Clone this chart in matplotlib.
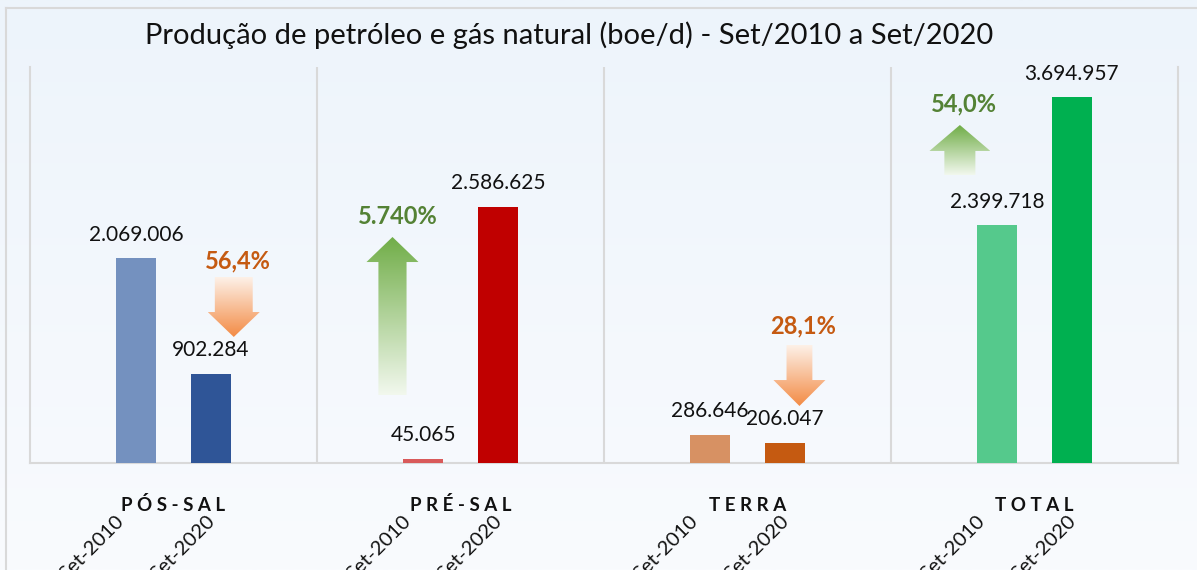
import numpy as np
import matplotlib
matplotlib.use("Agg")
import matplotlib.pyplot as plt
from matplotlib.patches import Polygon
from matplotlib.colors import LinearSegmentedColormap
from matplotlib.lines import Line2D
import matplotlib.transforms as mtransforms

plt.rcParams['font.family'] = ['Lato', 'DejaVu Sans']

# data
groups = ['P Ó S - S A L', 'P R É - S A L', 'T E R R A', 'T O T A L']
periods = ['Set-2010', 'Set-2020']
val_2010 = [2069006, 45065, 286646, 2399718]
val_2020 = [902284, 2586625, 206047, 3694957]
pct_labels = ['56,4%', '5.740%', '28,1%', '54,0%']
pct_up = [False, True, False, True]

colors_2010 = ['#7491bf', '#d95a5a', '#d79163', '#55c98c']
colors_2020 = ['#2f5597', '#c00000', '#c55a11', '#00b050']

def fmt(v):
    return f'{v:,}'.replace(',', '.')

W, H = 1197, 570
fig = plt.figure(figsize=(W / 100, H / 100), dpi=100)

# background gradient
bg = fig.add_axes([0, 0, 1, 1], zorder=-10)
grad = np.linspace(0, 1, 256).reshape(-1, 1)
bg_cmap = LinearSegmentedColormap.from_list('bg', ['#f9fbfe', '#edf4fb'])
bg.imshow(grad, cmap=bg_cmap, aspect='auto', origin='lower', extent=(0, 1, 0, 1))
bg.set_xlim(0, 1)
bg.set_ylim(0, 1)
bg.axis('off')

# outer frame
fig.add_artist(Line2D([6 / W, 6 / W], [0, 1 - 8 / H], transform=fig.transFigure,
                      color='#d9d9d9', lw=1.5))
fig.add_artist(Line2D([6 / W, 1], [1 - 8 / H, 1 - 8 / H], transform=fig.transFigure,
                      color='#d9d9d9', lw=1.5))

ax = fig.add_axes([30 / W, (H - 463) / H, 1148 / W, 396 / H])
ax.set_facecolor('none')

x = np.arange(len(groups))
off = 0.13
bw = 0.139
ax.bar(x - off, val_2010, bw, color=colors_2010, zorder=3)
ax.bar(x + off, val_2020, bw, color=colors_2020, zorder=3)

for xi, v1, v2 in zip(x, val_2010, val_2020):
    for xx, v in ((xi - off, v1), (xi + off, v2)):
        ax.annotate(fmt(v), (xx, v), xytext=(0, 17), textcoords='offset points',
                    ha='center', va='center', fontsize=15, color='#111111')

ax.set_xlim(-0.5, 3.5)
ax.set_ylim(0, 4000000)

for xs in (0.5, 1.5, 2.5):
    ax.axvline(xs, color='#d9d9d9', lw=1.5, zorder=1)

ax.spines['top'].set_visible(False)
for s in ('left', 'right', 'bottom'):
    ax.spines[s].set_color('#d9d9d9')
    ax.spines[s].set_linewidth(1.5)
ax.set_xticks([])
ax.set_yticks([])

# category and period labels
xt = ax.get_xaxis_transform()
for xi, g in zip(x, groups):
    t = mtransforms.offset_copy(xt, fig=fig, x=0, y=-48, units='dots')
    ax.text(xi, 0, g, transform=t, ha='center', va='baseline',
            fontsize=13.5, fontweight='bold', color='#111111')
    for k, (p, dx) in enumerate(zip(periods, (-21, -5))):
        xb = xi - off if k == 0 else xi + off
        t2 = mtransforms.offset_copy(xt, fig=fig, x=dx, y=-49, units='dots')
        ax.text(xb, 0, p, transform=t2, ha='right', va='top', rotation=45,
                rotation_mode='anchor', fontsize=14.5, color='#111111')

# gradient arrows: (center x, shaft half width, head half width, tail y, head base y, tip y)
arrows = [
    (0.21, 0.066, 0.0906, 1.879e6, 1.525e6, 1.273e6),
    (0.763, 0.049, 0.0906, 0.687e6, 2.03e6, 2.283e6),
    (2.181, 0.045, 0.0906, 1.192e6, 0.838e6, 0.576e6),
    (2.74, 0.054, 0.106, 2.909e6, 3.152e6, 3.414e6),
]
pct_pos = [(0.223, 2.04e6), (0.78, 2.485e6), (2.192, 1.384e6), (2.753, 3.626e6)]

green_cmap = LinearSegmentedColormap.from_list('g', ['#f2f8ee', '#70ad47'])
orange_cmap = LinearSegmentedColormap.from_list('o', ['#f38b45', '#fdf1e8'])

for (cx, sw, hw, y0, yh, yt), up, lab, (px, py) in zip(arrows, pct_up, pct_labels, pct_pos):
    verts = [(cx - sw, y0), (cx + sw, y0), (cx + sw, yh), (cx + hw, yh),
             (cx, yt), (cx - hw, yh), (cx - sw, yh)]
    poly = Polygon(verts, closed=True, facecolor='none', edgecolor='none', zorder=2)
    ax.add_patch(poly)
    ymin, ymax = min(y0, yt), max(y0, yt)
    im = ax.imshow(grad, cmap=green_cmap if up else orange_cmap, aspect='auto',
                   origin='lower', extent=(cx - hw, cx + hw, ymin, ymax),
                   zorder=2, interpolation='bilinear')
    im.set_clip_path(poly)
    ax.text(px, py, lab, ha='center', va='center', fontsize=17, fontweight='bold',
            color='#548235' if up else '#c55a11')

ax.set_xlim(-0.5, 3.5)
ax.set_ylim(0, 4000000)

fig.text(569 / W, 1 - 35 / H, 'Produção de petróleo e gás natural (boe/d) - Set/2010 a Set/2020',
         ha='center', va='center', fontsize=21, color='#111111')

fig.savefig('out.png', dpi=100)
